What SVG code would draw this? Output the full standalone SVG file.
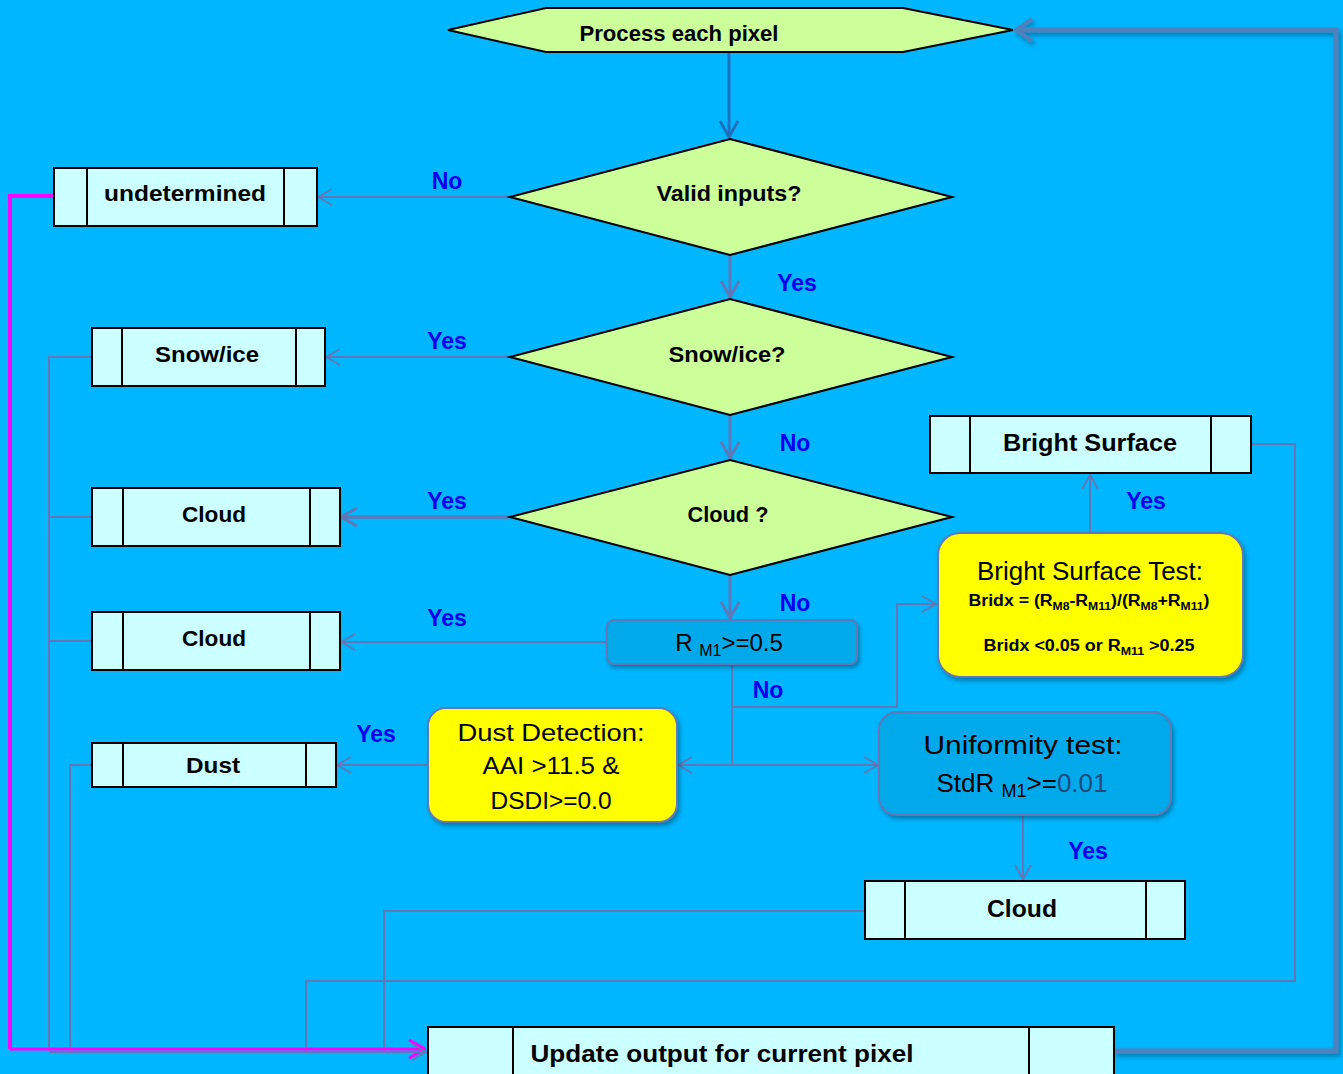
<svg xmlns="http://www.w3.org/2000/svg" width="1343" height="1074" viewBox="0 0 1343 1074">
<style>
  text { font-family: "Liberation Sans", Arial, sans-serif; fill: #000; }
  .b { font-weight: bold; }
  .lbl { font-weight: bold; fill: #0000EE; font-size: 23px; }
  .proc { fill: #CCFFFF; stroke: #000; stroke-width: 2; }
  .dia { fill: #CCFF99; stroke: #000; stroke-width: 2; }
  .conn { fill: none; stroke: #5E78B8; stroke-width: 2; }
  .yel { fill: #FFFF00; stroke: #5E78B8; stroke-width: 2; }
  .blu { fill: #00AAEA; stroke: #5E78B8; stroke-width: 2; }
</style>
<defs>
  <marker id="a" viewBox="0 0 16 18" refX="15" refY="9" markerWidth="16" markerHeight="18" markerUnits="userSpaceOnUse" orient="auto">
    <path d="M1,1 L15,9 L1,17" fill="none" stroke="#5E78B8" stroke-width="2"/>
  </marker>
  <marker id="a2" viewBox="0 0 18 20" refX="17" refY="10" markerWidth="18" markerHeight="20" markerUnits="userSpaceOnUse" orient="auto">
    <path d="M1,1 L17,10 L1,19" fill="none" stroke="#5E78B8" stroke-width="3"/>
  </marker>
  <marker id="ad" viewBox="0 0 18 20" refX="17" refY="10" markerWidth="18" markerHeight="20" markerUnits="userSpaceOnUse" orient="auto">
    <path d="M1,1 L17,10 L1,19" fill="none" stroke="#1F70C0" stroke-width="3"/>
  </marker>
  <marker id="am" viewBox="0 0 18 20" refX="17" refY="10" markerWidth="18" markerHeight="20" markerUnits="userSpaceOnUse" orient="auto">
    <path d="M1,1 L17,10 L1,19" fill="none" stroke="#FF00FF" stroke-width="3"/>
  </marker>
  <marker id="at" viewBox="0 0 20 26" refX="18" refY="13" markerWidth="20" markerHeight="26" markerUnits="userSpaceOnUse" orient="auto">
    <path d="M2,2 L18,13 L2,24" fill="none" stroke="#4F81BD" stroke-width="4"/>
  </marker>
  <filter id="sh" x="-10%" y="-10%" width="130%" height="140%">
    <feDropShadow dx="2" dy="3" stdDeviation="2" flood-color="#003050" flood-opacity="0.45"/>
  </filter>
</defs>
<rect x="0" y="0" width="1343" height="1074" fill="#00B6FF"/>

<g id="connectors">
  <path d="M1114,1051 H1336 V30 H1016" fill="none" stroke="#4F81BD" stroke-width="5" filter="url(#sh)" marker-end="url(#at)"/>
  <path d="M729,52 V137" fill="none" stroke="#1F70C0" stroke-width="3" marker-end="url(#ad)"/>
  <path d="M510,197 H318" class="conn" marker-end="url(#a)"/>
  <path d="M730,255 V297" fill="none" stroke="#5E78B8" stroke-width="3" marker-end="url(#a2)"/>
  <path d="M510,357 H326" class="conn" marker-end="url(#a)"/>
  <path d="M730,415 V458" fill="none" stroke="#5E78B8" stroke-width="3" marker-end="url(#a2)"/>
  <path d="M510,517 H341" fill="none" stroke="#5E78B8" stroke-width="3.5" marker-end="url(#a2)"/>
  <path d="M730,575 V618" fill="none" stroke="#5E78B8" stroke-width="3" marker-end="url(#a2)"/>
  <path d="M607,642 H341" class="conn" marker-end="url(#a)"/>
  <path d="M732,664 V765 H678" class="conn" marker-end="url(#a)"/>
  <path d="M732,765 H878" class="conn" marker-end="url(#a)"/>
  <path d="M732,707 H897 V604 H936" class="conn" marker-end="url(#a)"/>
  <path d="M428,765 H337" class="conn" marker-end="url(#a)"/>
  <path d="M1023,815 V879" class="conn" marker-end="url(#a)"/>
  <path d="M1090,533 V475" class="conn" marker-end="url(#a)"/>
  <path d="M92,357 H49 V1051" class="conn"/>
  <path d="M92,517 H49" class="conn"/>
  <path d="M92,641 H49" class="conn"/>
  <path d="M92,765 H70 V1051" class="conn"/>
  <path d="M1251,444 H1295 V981 H306 V1051" class="conn"/>
  <path d="M865,911 H384 V1051" class="conn"/>
  <path d="M10,1049 H425" fill="none" stroke="#FF00FF" stroke-width="3" marker-end="url(#am)"/>
  <path d="M54,196 H10 V1049" fill="none" stroke="#FF00FF" stroke-width="4"/>
  <path d="M49,1052 H426" class="conn" marker-end="url(#a)"/>
  <text class="lbl" x="447" y="189" text-anchor="middle">No</text>
  <text class="lbl" x="797" y="291" text-anchor="middle">Yes</text>
  <text class="lbl" x="447" y="349" text-anchor="middle">Yes</text>
  <text class="lbl" x="795" y="451" text-anchor="middle">No</text>
  <text class="lbl" x="447" y="509" text-anchor="middle">Yes</text>
  <text class="lbl" x="1146" y="509" text-anchor="middle">Yes</text>
  <text class="lbl" x="795" y="611" text-anchor="middle">No</text>
  <text class="lbl" x="447" y="626" text-anchor="middle">Yes</text>
  <text class="lbl" x="768" y="698" text-anchor="middle">No</text>
  <text class="lbl" x="376" y="742" text-anchor="middle">Yes</text>
  <text class="lbl" x="1088" y="859" text-anchor="middle">Yes</text>
</g>

<g id="start">
  <polygon class="dia" points="448,30 546,8 903,8 1013,30 903,52 546,52"/>
  <text class="b" x="679" y="41" font-size="22" text-anchor="middle" textLength="199" lengthAdjust="spacingAndGlyphs">Process each pixel</text>
</g>

<g id="valid">
  <polygon class="dia" points="510,197 730,139 952,197 730,255"/>
  <text class="b" x="729" y="201" font-size="22" text-anchor="middle" textLength="145" lengthAdjust="spacingAndGlyphs">Valid inputs?</text>
</g>

<g id="undetermined">
  <rect class="proc" x="54" y="168" width="263" height="58"/>
  <line x1="87" y1="168" x2="87" y2="226" stroke="#000" stroke-width="2"/>
  <line x1="284" y1="168" x2="284" y2="226" stroke="#000" stroke-width="2"/>
  <text class="b" x="185" y="201" font-size="22" text-anchor="middle" textLength="162" lengthAdjust="spacingAndGlyphs">undetermined</text>
</g>

<g id="snowq">
  <polygon class="dia" points="510,357 730,299 952,357 730,415"/>
  <text class="b" x="727" y="362" font-size="22" text-anchor="middle" textLength="117" lengthAdjust="spacingAndGlyphs">Snow/ice?</text>
</g>

<g id="snow">
  <rect class="proc" x="92" y="328" width="233" height="58"/>
  <line x1="122" y1="328" x2="122" y2="386" stroke="#000" stroke-width="2"/>
  <line x1="296" y1="328" x2="296" y2="386" stroke="#000" stroke-width="2"/>
  <text class="b" x="207" y="362" font-size="22" text-anchor="middle" textLength="104" lengthAdjust="spacingAndGlyphs">Snow/ice</text>
</g>

<g id="cloudq">
  <polygon class="dia" points="510,517 730,460 952,517 730,575"/>
  <text class="b" x="728" y="522" font-size="22" text-anchor="middle" textLength="81" lengthAdjust="spacingAndGlyphs">Cloud ?</text>
</g>

<g id="cloud1">
  <rect class="proc" x="92" y="488" width="248" height="58"/>
  <line x1="123" y1="488" x2="123" y2="546" stroke="#000" stroke-width="2"/>
  <line x1="310" y1="488" x2="310" y2="546" stroke="#000" stroke-width="2"/>
  <text class="b" x="214" y="522" font-size="22" text-anchor="middle" textLength="64" lengthAdjust="spacingAndGlyphs">Cloud</text>
</g>

<g id="rm1">
  <rect class="blu" x="607" y="620" width="250" height="44" rx="7" filter="url(#sh)"/>
  <text x="729" y="651" font-size="24" text-anchor="middle">R <tspan font-size="16" dy="5">M1</tspan><tspan dy="-5">&gt;=0.5</tspan></text>
</g>

<g id="cloud2">
  <rect class="proc" x="92" y="612" width="248" height="58"/>
  <line x1="123" y1="612" x2="123" y2="670" stroke="#000" stroke-width="2"/>
  <line x1="310" y1="612" x2="310" y2="670" stroke="#000" stroke-width="2"/>
  <text class="b" x="214" y="646" font-size="22" text-anchor="middle" textLength="64" lengthAdjust="spacingAndGlyphs">Cloud</text>
</g>

<g id="brighttest">
  <rect class="yel" x="938" y="533" width="305" height="144" rx="22" filter="url(#sh)"/>
  <text x="1090" y="580" font-size="25" text-anchor="middle" textLength="226" lengthAdjust="spacingAndGlyphs">Bright Surface Test:</text>
  <text class="b" x="1089" y="606" font-size="16" text-anchor="middle" textLength="241" lengthAdjust="spacingAndGlyphs">Bridx = (R<tspan font-size="11" dy="4">M8</tspan><tspan dy="-4">-R</tspan><tspan font-size="11" dy="4">M11</tspan><tspan dy="-4">)/(R</tspan><tspan font-size="11" dy="4">M8</tspan><tspan dy="-4">+R</tspan><tspan font-size="11" dy="4">M11</tspan><tspan dy="-4">)</tspan></text>
  <text class="b" x="1089" y="651" font-size="16" text-anchor="middle" textLength="211" lengthAdjust="spacingAndGlyphs">Bridx &lt;0.05  or  R<tspan font-size="11" dy="4">M11</tspan><tspan dy="-4"> &gt;0.25</tspan></text>
</g>

<g id="bright">
  <rect class="proc" x="930" y="416" width="321" height="57"/>
  <line x1="970" y1="416" x2="970" y2="473" stroke="#000" stroke-width="2"/>
  <line x1="1211" y1="416" x2="1211" y2="473" stroke="#000" stroke-width="2"/>
  <text class="b" x="1090" y="451" font-size="24" text-anchor="middle" textLength="174" lengthAdjust="spacingAndGlyphs">Bright Surface</text>
</g>

<g id="dusttest">
  <rect class="yel" x="428" y="708" width="249" height="114" rx="18" filter="url(#sh)"/>
  <text x="551" y="741" font-size="24" text-anchor="middle" textLength="187" lengthAdjust="spacingAndGlyphs">Dust  Detection:</text>
  <text x="551" y="774" font-size="24" text-anchor="middle" textLength="137" lengthAdjust="spacingAndGlyphs">AAI &gt;11.5 &amp;</text>
  <text x="551" y="809" font-size="24" text-anchor="middle" textLength="121" lengthAdjust="spacingAndGlyphs">DSDI&gt;=0.0</text>
</g>

<g id="dust">
  <rect class="proc" x="92" y="743" width="244" height="44"/>
  <line x1="123" y1="743" x2="123" y2="787" stroke="#000" stroke-width="2"/>
  <line x1="306" y1="743" x2="306" y2="787" stroke="#000" stroke-width="2"/>
  <text class="b" x="213" y="773" font-size="22" text-anchor="middle" textLength="54" lengthAdjust="spacingAndGlyphs">Dust</text>
</g>

<g id="uniform">
  <rect class="blu" x="879" y="712" width="292" height="103" rx="18" filter="url(#sh)"/>
  <text x="1023" y="754" font-size="26" text-anchor="middle" textLength="199" lengthAdjust="spacingAndGlyphs">Uniformity test:</text>
  <text x="1022" y="792" font-size="26" text-anchor="middle">StdR <tspan font-size="18" dy="5">M1</tspan><tspan dy="-5">&gt;=</tspan><tspan fill="#1F497D">0.01</tspan></text>
</g>

<g id="cloud3">
  <rect class="proc" x="865" y="881" width="320" height="58"/>
  <line x1="905" y1="881" x2="905" y2="939" stroke="#000" stroke-width="2"/>
  <line x1="1146" y1="881" x2="1146" y2="939" stroke="#000" stroke-width="2"/>
  <text class="b" x="1022" y="917" font-size="24" text-anchor="middle" textLength="70" lengthAdjust="spacingAndGlyphs">Cloud</text>
</g>

<g id="update">
  <rect class="proc" x="428" y="1027" width="686" height="52"/>
  <line x1="513" y1="1027" x2="513" y2="1074" stroke="#000" stroke-width="2"/>
  <line x1="1029" y1="1027" x2="1029" y2="1074" stroke="#000" stroke-width="2"/>
  <text class="b" x="722" y="1062" font-size="24" text-anchor="middle" textLength="383" lengthAdjust="spacingAndGlyphs">Update output for current pixel</text>
</g>
</svg>
